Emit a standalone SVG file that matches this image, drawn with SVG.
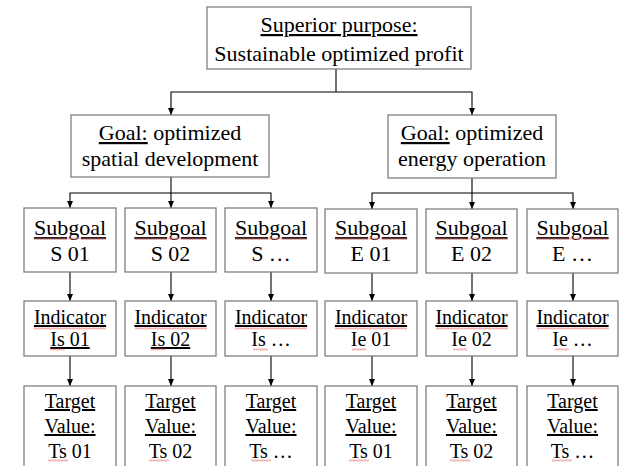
<svg xmlns="http://www.w3.org/2000/svg" width="619" height="466" viewBox="0 0 619 466" font-family="Liberation Serif, Times New Roman, serif">
<style>
.box{fill:#fff;stroke:#757575;stroke-width:1.2}
.t{font-family:'Liberation Serif','Times New Roman',serif;fill:#000;text-anchor:middle}
.f22{font-size:22px}
.f20{font-size:20px}
.u{text-decoration:underline}
.c{fill:none;stroke:#000;stroke-width:1.1}
.arr{marker-end:url(#ah)}
.w{fill:url(#wave)}
</style>
<defs>
<marker id="ah" markerWidth="7" markerHeight="6" refX="7" refY="3" orient="auto" markerUnits="userSpaceOnUse">
<path d="M0,0 L7,3 L0,6 z" fill="#000"/>
</marker>
<pattern id="wave" width="4" height="3" patternUnits="userSpaceOnUse">
<path d="M0,2.5 L1,0.5 L2,2.5 L3,0.5 L4,2.5" fill="none" stroke="#e86a6a" stroke-width="0.5"/>
</pattern>
</defs>
<rect width="619" height="466" fill="#fff"/>

<g id="connectors">
<path class="c" d="M336,69 V92"/>
<path class="c arr" d="M336,92 H171 V115"/>
<path class="c arr" d="M336,92 H472 V115"/>
<path class="c" d="M171,177 V193"/>
<path class="c arr" d="M171,193 H70 V208"/>
<path class="c arr" d="M171,193 V208"/>
<path class="c arr" d="M171,193 H271 V208"/>
<path class="c" d="M472,178 V193"/>
<path class="c arr" d="M472,193 H372 V209"/>
<path class="c arr" d="M472,193 V209"/>
<path class="c arr" d="M472,193 H573 V209"/>
<path class="c arr" d="M70,272 V301"/>
<path class="c arr" d="M171,272 V301"/>
<path class="c arr" d="M271,272 V301"/>
<path class="c arr" d="M372,273 V301"/>
<path class="c arr" d="M472,273 V301"/>
<path class="c arr" d="M573,273 V301"/>
<path class="c arr" d="M70,356 V386"/>
<path class="c arr" d="M171,356 V386"/>
<path class="c arr" d="M271,356 V386"/>
<path class="c arr" d="M372,356 V386"/>
<path class="c arr" d="M472,356 V386"/>
<path class="c arr" d="M573,356 V386"/>
</g>

<g id="purpose">
<rect class="box" x="207" y="7" width="264" height="62"/>
<text class="t f22" x="339" y="32"><tspan class="u">Superior purpose:</tspan></text>
<text class="t f22" x="339" y="61">Sustainable optimized profit</text>
</g>

<g id="goal-spatial">
<rect class="box" x="71" y="115" width="198" height="62"/>
<text class="t f22" x="170" y="140"><tspan class="u">Goal:</tspan> optimized</text>
<text class="t f22" x="170" y="166">spatial development</text>
</g>

<g id="goal-energy">
<rect class="box" x="388" y="115" width="168" height="63"/>
<text class="t f22" x="472" y="140"><tspan class="u">Goal:</tspan> optimized</text>
<text class="t f22" x="472" y="166">energy operation</text>
</g>

<g id="subgoal-s01">
<rect class="box" x="24" y="208" width="92" height="64"/>
<text class="t f22" x="70" y="235"><tspan class="u">Subgoal</tspan></text>
<rect class="w" x="34" y="237" width="72" height="3"/>
<text class="t f22" x="70" y="261">S 01</text>
</g>
<g id="subgoal-s02">
<rect class="box" x="125" y="208" width="91" height="64"/>
<text class="t f22" x="170.5" y="235"><tspan class="u">Subgoal</tspan></text>
<rect class="w" x="135" y="237" width="72" height="3"/>
<text class="t f22" x="170.5" y="261">S 02</text>
</g>
<g id="subgoal-s03">
<rect class="box" x="225" y="208" width="92" height="64"/>
<text class="t f22" x="271" y="235"><tspan class="u">Subgoal</tspan></text>
<rect class="w" x="235" y="237" width="72" height="3"/>
<text class="t f22" x="271" y="261">S …</text>
</g>
<g id="subgoal-e01">
<rect class="box" x="325" y="209" width="92" height="64"/>
<text class="t f22" x="371" y="235"><tspan class="u">Subgoal</tspan></text>
<rect class="w" x="335" y="237" width="72" height="3"/>
<text class="t f22" x="371" y="261">E 01</text>
</g>
<g id="subgoal-e02">
<rect class="box" x="426" y="209" width="91" height="64"/>
<text class="t f22" x="471.5" y="235"><tspan class="u">Subgoal</tspan></text>
<rect class="w" x="436" y="237" width="72" height="3"/>
<text class="t f22" x="471.5" y="261">E 02</text>
</g>
<g id="subgoal-e03">
<rect class="box" x="527" y="209" width="91" height="64"/>
<text class="t f22" x="572.5" y="235"><tspan class="u">Subgoal</tspan></text>
<rect class="w" x="537" y="237" width="72" height="3"/>
<text class="t f22" x="572.5" y="261">E …</text>
</g>

<g id="indicator-s01">
<rect class="box" x="24" y="301" width="92" height="55"/>
<text class="t f20" x="70" y="324"><tspan class="u">Indicator</tspan></text>
<rect class="w" x="34" y="327" width="72" height="3"/>
<text class="t f20" x="70" y="346"><tspan class="u">Is 01</tspan></text>
<rect class="w" x="50" y="348" width="15" height="3"/>
</g>
<g id="indicator-s02">
<rect class="box" x="125" y="301" width="91" height="55"/>
<text class="t f20" x="170.5" y="324"><tspan class="u">Indicator</tspan></text>
<rect class="w" x="135" y="327" width="72" height="3"/>
<text class="t f20" x="170.5" y="346"><tspan class="u">Is 02</tspan></text>
<rect class="w" x="151" y="348" width="15" height="3"/>
</g>
<g id="indicator-s03">
<rect class="box" x="225" y="301" width="92" height="55"/>
<text class="t f20" x="271" y="324"><tspan class="u">Indicator</tspan></text>
<rect class="w" x="235" y="327" width="72" height="3"/>
<text class="t f20" x="271" y="346">Is …</text>
<rect class="w" x="253" y="348" width="15" height="3"/>
</g>
<g id="indicator-e01">
<rect class="box" x="325" y="301" width="92" height="55"/>
<text class="t f20" x="371" y="324"><tspan class="u">Indicator</tspan></text>
<rect class="w" x="335" y="327" width="72" height="3"/>
<text class="t f20" x="371" y="346">Ie 01</text>
<rect class="w" x="352" y="348" width="14" height="3"/>
</g>
<g id="indicator-e02">
<rect class="box" x="426" y="301" width="91" height="55"/>
<text class="t f20" x="471.5" y="324"><tspan class="u">Indicator</tspan></text>
<rect class="w" x="436" y="327" width="72" height="3"/>
<text class="t f20" x="471.5" y="346">Ie 02</text>
<rect class="w" x="453" y="348" width="14" height="3"/>
</g>
<g id="indicator-e03">
<rect class="box" x="527" y="301" width="91" height="55"/>
<text class="t f20" x="572.5" y="324"><tspan class="u">Indicator</tspan></text>
<rect class="w" x="537" y="327" width="72" height="3"/>
<text class="t f20" x="572.5" y="346">Ie …</text>
<rect class="w" x="555" y="348" width="14" height="3"/>
</g>

<g id="target-s01">
<rect class="box" x="24" y="386" width="92" height="90"/>
<text class="t f20" x="70" y="408"><tspan class="u">Target</tspan></text>
<text class="t f20" x="70" y="433"><tspan class="u">Value: </tspan></text>
<text class="t f20" x="70" y="458">Ts 01</text>
<rect class="w" x="48" y="459" width="20" height="3"/>
</g>
<g id="target-s02">
<rect class="box" x="125" y="386" width="91" height="90"/>
<text class="t f20" x="170.5" y="408"><tspan class="u">Target</tspan></text>
<text class="t f20" x="170.5" y="433"><tspan class="u">Value: </tspan></text>
<text class="t f20" x="170.5" y="458">Ts 02</text>
<rect class="w" x="149" y="459" width="20" height="3"/>
</g>
<g id="target-s03">
<rect class="box" x="225" y="386" width="92" height="90"/>
<text class="t f20" x="271" y="408"><tspan class="u">Target</tspan></text>
<text class="t f20" x="271" y="433"><tspan class="u">Value: </tspan></text>
<text class="t f20" x="271" y="458">Ts …</text>
<rect class="w" x="251" y="459" width="20" height="3"/>
</g>
<g id="target-e01">
<rect class="box" x="325" y="386" width="92" height="90"/>
<text class="t f20" x="371" y="408"><tspan class="u">Target</tspan></text>
<text class="t f20" x="371" y="433"><tspan class="u">Value: </tspan></text>
<text class="t f20" x="371" y="458">Ts 01</text>
<rect class="w" x="349" y="459" width="20" height="3"/>
</g>
<g id="target-e02">
<rect class="box" x="426" y="386" width="91" height="90"/>
<text class="t f20" x="471.5" y="408"><tspan class="u">Target</tspan></text>
<text class="t f20" x="471.5" y="433"><tspan class="u">Value: </tspan></text>
<text class="t f20" x="471.5" y="458">Ts 02</text>
<rect class="w" x="450" y="459" width="20" height="3"/>
</g>
<g id="target-e03">
<rect class="box" x="527" y="386" width="91" height="90"/>
<text class="t f20" x="572.5" y="408"><tspan class="u">Target</tspan></text>
<text class="t f20" x="572.5" y="433"><tspan class="u">Value: </tspan></text>
<text class="t f20" x="572.5" y="458">Ts …</text>
<rect class="w" x="552" y="459" width="20" height="3"/>
</g>
</svg>
